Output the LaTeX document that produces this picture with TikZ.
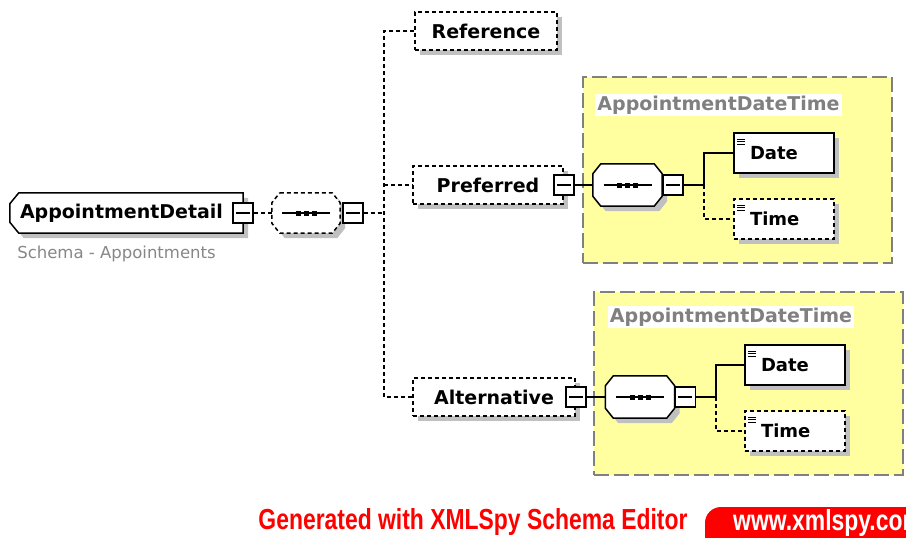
\documentclass[tikz,border=0pt]{standalone}
\usepackage{fontspec}
\setmainfont{DejaVu Sans}
\newfontfamily\footfont[FakeStretch=0.79]{Liberation Sans}
\usetikzlibrary{shadows}

\definecolor{boxshade}{RGB}{192,192,192}
\definecolor{groupfill}{RGB}{255,255,160}
\definecolor{groupline}{RGB}{128,128,128}
\definecolor{titlegray}{RGB}{128,128,128}
\definecolor{notegray}{RGB}{135,135,135}
\definecolor{xmlred}{RGB}{255,0,0}

\pgfdeclarelayer{back}
\pgfsetlayers{back,main}

\begin{document}
\begin{tikzpicture}[x=1pt,y=-1pt,
    every node/.style={inner sep=0pt},
    boxshadow/.style={drop shadow={shadow xshift=5pt,shadow yshift=-5pt,fill=boxshade,opacity=1}},
    optional/.style={dash pattern=on 4pt off 3pt},
    line/.style={line width=1.4pt},
    optline/.style={line width=1.4pt,optional},
    elem/.style={draw,line width=1.5pt,fill=white,minimum height=38pt,boxshadow,
        font=\fontsize{19}{22}\selectfont\bfseries},
    detail/.style={minimum width=233pt,minimum height=40pt,text width=213pt,inner xsep=10pt,align=left,
        font=\fontsize{19}{22}\selectfont\bfseries},
    leaf/.style={elem,minimum width=100pt,minimum height=40pt,text width=68pt,inner xsep=16pt,align=left,
        font=\fontsize{18}{21}\selectfont\bfseries,
        path picture={
            \foreach \k in {6,8.5,11}
                \draw[solid,line width=0.9pt] ([xshift=3pt,yshift=-\k pt]path picture bounding box.north west) -- ++(8pt,0);
        }},
    seqspot/.style={minimum width=69pt,minimum height=42pt},
    minusbox/.style={draw,line width=1.5pt,fill=white,minimum size=20pt,
        path picture={
            \draw[line width=1.2pt] ([xshift=-7pt]path picture bounding box.center) -- ([xshift=7pt]path picture bounding box.center);
        }},
    groupbox/.style={draw=groupline,fill=groupfill,line width=2pt,dash pattern=on 15pt off 5pt},
    grouptitle/.style={fill=white,text=titlegray,inner sep=2pt,font=\fontsize{19}{22}\selectfont\bfseries}
    ]
    \useasboundingbox (0,0) rectangle (906,538);
    \clip (0,0) rectangle (906,538);

    \begin{pgfonlayer}{back}
    \node[groupbox,minimum width=309pt,minimum height=186pt] (grpP) at (737.5,170) {};
    \node[groupbox,minimum width=309pt,minimum height=183pt] (grpA) at (748.5,383.5) {};
    \end{pgfonlayer}

    \node[detail] (det) at (126.5,213) {AppointmentDetail};
    \begin{pgfonlayer}{back}
    \filldraw[line width=1.5pt,fill=white,boxshadow] ([xshift=9pt]det.north west) -- (det.north east) -- (det.south east)
        -- ([xshift=9pt]det.south west) -- ([yshift=11pt]det.south west) -- ([yshift=-11pt]det.north west) -- cycle;
    \end{pgfonlayer}
    \node[minusbox] (detcol) at (det.east) {};
    \node[text=notegray,font=\fontsize{16.5}{19}\selectfont] (schema) at (116.5,254) {Schema - Appointments};

    \node[seqspot,minimum width=68pt,minimum height=40pt] (seq) at (306,213) {};
    \node[minusbox,anchor=west] (seqcol) at ([xshift=2pt]seq.east) {};
    \coordinate (fork) at (384,213);

    \node[elem,optional,minimum width=142pt] (ref) at (486,31) {Reference};
    \node[elem,optional,minimum width=150pt] (pref) at (488,185) {Preferred};
    \node[minusbox] (prefcol) at (pref.east) {};
    \node[elem,optional,minimum width=162pt] (alt) at (494,397) {Alternative};
    \node[minusbox] (altcol) at (alt.east) {};

    \draw[optline] (detcol.east) -- (seq.west);
    \draw[optline] (seqcol.east) -- (fork);
    \draw[optline] (ref.west) -| (fork) |- (alt.west);
    \draw[optline] (fork |- pref.west) -- (pref.west);

    \node[grouptitle] (titleP) at (718.5,105) {AppointmentDateTime};
    \node[seqspot] (seqP) at (627.5,185) {};
    \node[minusbox,anchor=west] (seqPcol) at (seqP.east) {};
    \coordinate (forkP) at (704,185);
    \node[leaf] (dateP) at (784,153) {Date};
    \node[leaf,optional] (timeP) at (784,219) {Time};

    \draw[line] (prefcol.east) -- (seqP.west);
    \draw[line] (seqPcol.east) -- (forkP) |- (dateP.west);
    \draw[optline] (forkP) |- (timeP.west);

    \node[grouptitle] (titleA) at (731,317) {AppointmentDateTime};
    \node[seqspot] (seqA) at (640,397) {};
    \node[minusbox,anchor=west] (seqAcol) at (seqA.east) {};
    \coordinate (forkA) at (716,397);
    \node[leaf] (dateA) at (795,365) {Date};
    \node[leaf,optional] (timeA) at (795,431) {Time};

    \draw[line] (altcol.east) -- (seqA.west);
    \draw[line] (seqAcol.east) -- (forkA) |- (dateA.west);
    \draw[optline] (forkA) |- (timeA.west);

    \begin{pgfonlayer}{back}
    \foreach \s/\look in {seq/optline,seqP/line,seqA/line}{
        \filldraw[\look,line width=1.5pt,fill=white,boxshadow] ([xshift=8pt]\s.north west) -- ([xshift=-8pt]\s.north east)
            -- ([yshift=-10pt]\s.north east) -- ([yshift=10pt]\s.south east) -- ([xshift=-8pt]\s.south east)
            -- ([xshift=8pt]\s.south west) -- ([yshift=10pt]\s.south west) -- ([yshift=-10pt]\s.north west) -- cycle;
        \draw[line width=1.2pt] ([xshift=-24pt]\s.center) -- ([xshift=24pt]\s.center);
        \foreach \d in {-8,0,8}
            \fill[black] ([xshift=\d pt]\s.center) +(-2.5pt,-2.5pt) rectangle +(2.5pt,2.5pt);
    }
    \end{pgfonlayer}

    \node[text=xmlred,font=\footfont\bfseries\fontsize{29}{32}\selectfont] (gen) at (473,522) {Generated with XMLSpy Schema Editor};
    \fill[xmlred,rounded corners=16pt] (705,507) rectangle (960,570);
    \node[anchor=west,text=white,font=\footfont\bfseries\fontsize{29}{32}\selectfont] (site) at (733,523) {www.xmlspy.com};

\end{tikzpicture}
\end{document}
